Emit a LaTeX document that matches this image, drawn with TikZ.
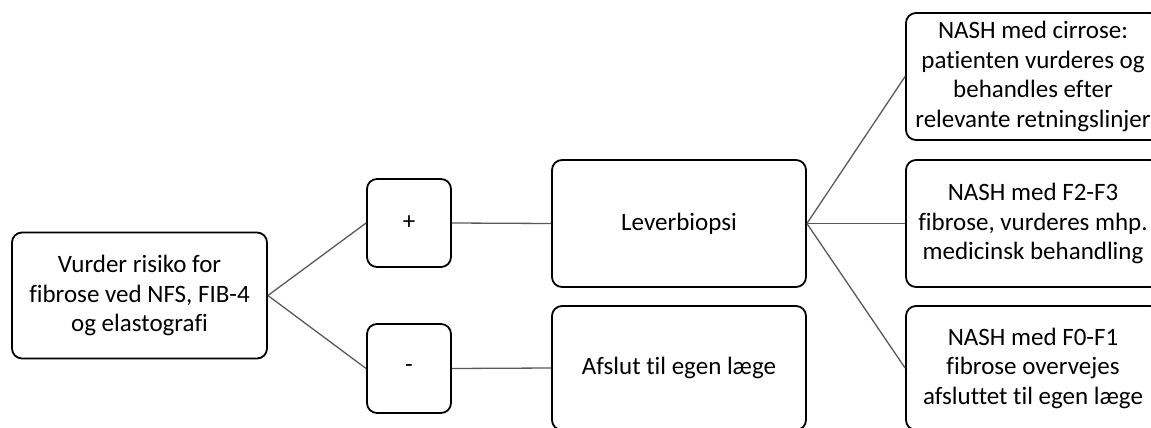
\documentclass[tikz,border=0pt]{standalone}
\usepackage{fontspec}
\setmainfont{Carlito}[Ligatures=NoCommon]
\begin{document}
\begin{tikzpicture}[x=1pt,y=-1pt,
  box/.style={draw=black, line width=1.8pt, rounded corners=10pt, align=center,
    font=\fontsize{25}{29.5}\selectfont, inner sep=0pt, anchor=center},
  conn/.style={draw=black!65, line width=1.3pt}]
\useasboundingbox (0,0) rectangle (1151,428);
\clip (0,0) rectangle (1151,428);
\node[box, minimum width=255pt, minimum height=126pt] (L) at (139.5,295.5) {Vurder risiko for\\fibrose ved NFS, FIB-4\\og elastografi};
\node[box, minimum width=84pt, minimum height=88pt] (P) at (409,223) {+};
\node[box, minimum width=84pt, minimum height=89pt] (M) at (409,368.5) {-};
\node[box, minimum width=254pt, minimum height=127pt] (LB) at (679,223.5) {Leverbiopsi};
\node[box, minimum width=254pt, minimum height=124pt] (AF) at (679,368) {Afslut til egen læge};
\node[box, minimum width=254pt, minimum height=127pt] (R1) at (1033,76.5) {NASH med cirrose:\\patienten vurderes og\\behandles efter\\relevante retningslinjer};
\node[box, minimum width=254pt, minimum height=127pt] (R2) at (1033,223.5) {NASH med F2-F3\\fibrose, vurderes mhp.\\medicinsk behandling};
\node[box, minimum width=254pt, minimum height=124pt] (R3) at (1033,368) {NASH med F0-F1\\fibrose overvejes\\afsluttet til egen læge};
\draw[conn] (L.east) -- (P.west);
\draw[conn] (L.east) -- (M.west);
\draw[conn] (P.east) -- (LB.west);
\draw[conn] (M.east) -- (AF.west);
\draw[conn] (LB.east) -- (R1.west);
\draw[conn] (LB.east) -- (R2.west);
\draw[conn] (LB.east) -- (R3.west);
\end{tikzpicture}
\end{document}
